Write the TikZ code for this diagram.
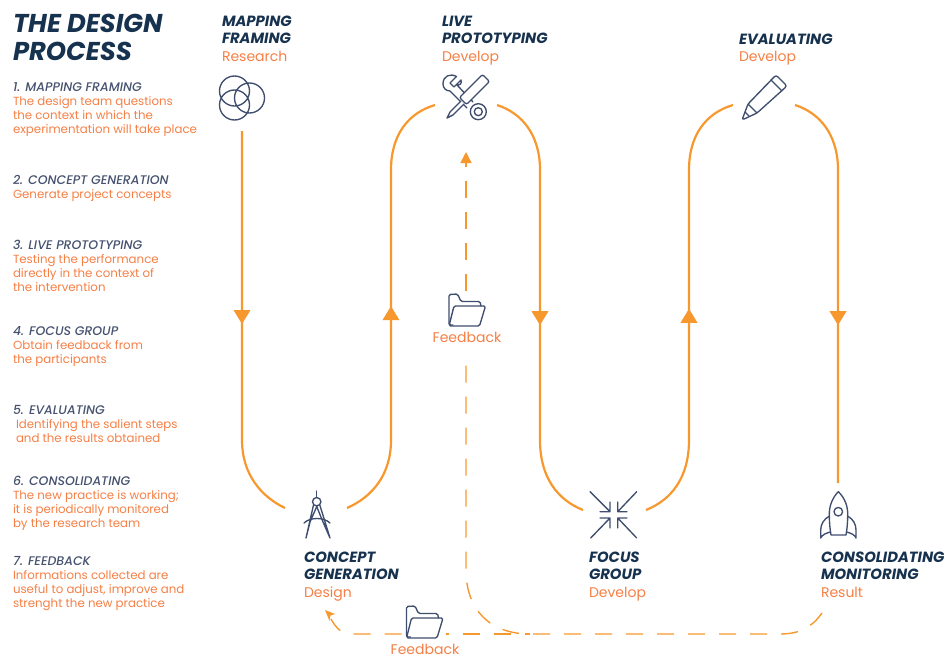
\documentclass[tikz,border=0pt]{standalone}
\usepackage{fontspec}
\setmainfont{Poppins}
\newfontfamily\medfont{Poppins Medium}[ItalicFont={Poppins Medium Italic}]
\usetikzlibrary{arrows.meta,decorations.markings}
\definecolor{navy}{HTML}{17324F}
\definecolor{slate}{HTML}{46526F}
\definecolor{iconc}{HTML}{3F4D6E}
\definecolor{orangeline}{HTML}{F7982E}
\definecolor{orangetext}{HTML}{F57F45}
\tikzset{
  every node/.style={inner sep=0pt,outer sep=0pt},
  flow/.style={draw=orangeline,line width=2.2pt},
  flowtip/.style={postaction={decorate},decoration={markings,mark=at position #1pt with {\arrow[orangeline]{Triangle[length=14pt,width=16.5pt]}}}},
  fbline/.style={draw=orangeline,line width=1.4pt,dash pattern=on 17pt off 14pt},
  fbtip/.style={-{Triangle[length=11pt,width=11pt,color=orangeline]}},
  iconline/.style={draw=iconc,line width=1.35pt,line join=round,line cap=round},
  iconbox/.style={minimum width=#1,minimum height=#1},
  titletext/.style={anchor=north west,align=left,text=navy,font=\fontsize{25.8}{28.5}\selectfont\bfseries\itshape},
  steptext/.style={anchor=north west,align=left,text=navy,font=\fontsize{14.8}{17}\selectfont\bfseries\itshape},
  kindtext/.style={anchor=north west,text=orangetext,font=\fontsize{14}{17}\selectfont},
  listtext/.style={anchor=north west,align=left,text=orangetext,font=\fontsize{11.8}{14}\selectfont},
  pics/folder/.style={code={
    \draw[iconline,rounded corners=1.5pt] (-13,15) -- (-17,15) -- (-17,-15.5) -- (-8.5,-16) -- (-5,-8.5) -- (14,-8.5) -- (15,-4);
    \draw[iconline,rounded corners=1.5pt] (-12,-4) -- (19.5,-4) -- (13.5,16) -- (-17,16) -- cycle;
  }}
}
\newcommand{\headline}[1]{{\color{slate}\fontsize{12.5}{14}\selectfont\medfont\itshape #1}}
\begin{document}
\begin{tikzpicture}[x=1pt,y=-1pt]
\useasboundingbox (0,0) rectangle (944,658);
% ---- anchors of the icons
\node[iconbox=62pt] (map) at (242,100) {};
\node[iconbox=62pt] (live) at (466,105) {};
\node[iconbox=62pt] (evalu) at (764,105) {};
\node[iconbox=62pt] (concept) at (316,508) {};
\node[iconbox=63pt] (focus) at (614.5,510) {};
\node[iconbox=64pt] (consol) at (838,515) {};
% ---- titles
\node[titletext] (title) at (13,14) {THE DESIGN\\PROCESS};
% ---- list
\node[listtext] (l1) at (13,82.5) {\headline{1. MAPPING FRAMING}\\The design team questions\\the context in which the\\experimentation will take place};
\node[listtext] (l2) at (13,175.5) {\headline{2. CONCEPT GENERATION}\\Generate project concepts};
\node[listtext] (l3) at (13,240.5) {\headline{3. LIVE PROTOTYPING}\\Testing the performance\\directly in the context of\\the intervention};
\node[listtext] (l4) at (13,326.5) {\headline{4. FOCUS GROUP}\\Obtain feedback from\\the participants};
\node[listtext] (l5) at (13,405.5) {\headline{5. EVALUATING}\\\hspace*{3pt}Identifying the salient steps\\\hspace*{3pt}and the results obtained};
\node[listtext] (l6) at (13,476.5) {\headline{6. CONSOLIDATING}\\The new practice is working;\\it is periodically monitored\\by the research team};
\node[listtext] (l7) at (13,556.5) {\headline{7. FEEDBACK}\\Informations collected are\\useful to adjust, improve and\\strenght the new practice};
% ---- step labels
\node[steptext] (s1) at (222,16) {MAPPING\\FRAMING};
\node[kindtext] (k1) at (222,51) {Research};
\node[steptext] (s2) at (442,16) {LIVE\\PROTOTYPING};
\node[kindtext] (k2) at (442,51) {Develop};
\node[steptext] (s3) at (739,34) {EVALUATING};
\node[kindtext] (k3) at (739,51) {Develop};
\node[steptext] (s4) at (304,552) {CONCEPT\\GENERATION};
\node[kindtext] (k4) at (304,587) {Design};
\node[steptext] (s5) at (589,552) {FOCUS\\GROUP};
\node[kindtext] (k5) at (589,587) {Develop};
\node[steptext] (s6) at (821,552) {CONSOLIDATING\\MONITORING};
\node[kindtext] (k6) at (821,587) {Result};
% ---- feedback labels
\node[kindtext,anchor=center] (fb1) at (467,337) {Feedback};
\node[kindtext,anchor=center] (fb2) at (425,649) {Feedback};
\node[iconbox=38pt] (fold1) at (466,310) {};
\node[minimum width=44pt,minimum height=10pt] (fold2) at (423.5,634) {};
\pic at (466,310) {folder};
\pic at (423.5,622) {folder};
% ---- main flow
\draw[flow,flowtip=193] (map.south) -- (242,440) .. controls (242,475) and (262,497) .. (concept.west);
\draw[flow,flowtip=220] (concept.east) .. controls (372,497) and (391,475) .. (391,440) -- (391,170) .. controls (391,135) and (408,113) .. (live.west);
\draw[flow,flowtip=239] (live.east) .. controls (522,113) and (540,135) .. (540,170) -- (540,440) .. controls (540,478) and (558,500) .. (focus.west);
\draw[flow,flowtip=219] (focus.east) .. controls (671,500) and (689,478) .. (689,440) -- (689,170) .. controls (689,135) and (706,113) .. (evalu.west);
\draw[flow,flowtip=239] (evalu.east) .. controls (820,113) and (838,135) .. (838,170) -- (consol.north);
% ---- feedback flow
\coordinate (dstart) at (822,613);
\coordinate (djoin) at (530,634);
\coordinate (dtop) at (466,152);
\coordinate (dleft) at (325,610);
\coordinate (dmid) at (466,352);
\draw[fbline] (dstart) .. controls (812,627) and (800,634) .. (780,634) -- (djoin) .. controls (490,634) and (466,610) .. (466,570) -- (dmid);
\draw[fbline,dash phase=12pt] (djoin) -- (fold2.east);
\draw[fbline] (fold2.west) -- (350,634) .. controls (342,634) and (336,628) .. (331,619);
\fill[orangeline] (dleft) -- (335,614) -- (330.5,615.5) -- (329.5,621) -- cycle;
\draw[fbline,fbtip] (fold1.north) -- (dtop);
% ---- venn icon
\draw[iconline] (234.5,91) circle[radius=15] (234.5,105) circle[radius=15] (249.5,98) circle[radius=15];
% ---- tools icon
\draw[iconline] (456.5,76.5) .. controls (450,73) and (443,76) .. (443,84) .. controls (443,88) and (446,91) .. (450,91) -- (467,108);
\draw[iconline] (456.5,76.5) -- (450,83) -- (454,87) -- (461,80) .. controls (462,84) and (460,85) .. (457,85) -- (473,102);
\draw[iconline,fill=white] (478.3,111.7) circle[radius=8];
\draw[iconline] (478.3,111.7) circle[radius=4];
\draw[iconline,fill=white,rounded corners=2pt] (482.5,74.5) -- (489.5,81.5) -- (466.5,104.5) -- (459.5,97.5) -- cycle;
\draw[iconline,fill=white] (461,101) -- (450,112) -- (447,118) -- (453,115) -- (464,104);
% ---- pencil icon
\draw[iconline,rounded corners=2.5pt] (776,75) -- (787,86) -- (757,113) -- (742,120) -- (748,104) -- cycle;
\draw[iconline] (771,80) -- (782,91) (748,104) -- (757,113) (745,112) -- (749,116);
% ---- compass icon
\draw[iconline] (316.7,491) -- (316.7,497.5);
\draw[iconline] (316.7,501.7) circle[radius=4.2];
\draw[iconline] (313.5,505) -- (306,538) -- (310,522) -- (317,506);
\draw[iconline] (319.8,505) -- (330,538) -- (323,522) -- (316.5,506);
\draw[iconline] (304,523) .. controls (310,517) and (324,517) .. (330,523);
% ---- focus icon
\draw[iconline] (590,491.7) -- (610,511.7) (610,502) -- (610,511.7) -- (600,511.7);
\draw[iconline] (636.7,491.7) -- (617.7,511.7) (617.7,502) -- (617.7,511.7) -- (627,511.7);
\draw[iconline] (590.7,538) -- (610,518) (610,528) -- (610,518) -- (600,518);
\draw[iconline] (636.7,538) -- (617.7,518) (617.7,528) -- (617.7,518) -- (627,518);
% ---- rocket icon
\draw[iconline] (838.3,491.7) .. controls (832,498) and (829,507) .. (829.3,515) .. controls (829.3,522) and (830,530) .. (831,535) -- (846,535) .. controls (847,530) and (847.7,522) .. (847.7,515) .. controls (848,507) and (845,498) .. (838.3,491.7) -- cycle;
\draw[iconline] (838.3,511.7) circle[radius=4.3];
\draw[iconline] (829.5,516) .. controls (824,519) and (820.7,524) .. (820.7,530) -- (820.7,538) .. controls (822,535) and (826,533) .. (830.5,532);
\draw[iconline] (847.5,516) .. controls (853,519) and (856,524) .. (856,530) -- (856,538) .. controls (855,535) and (851,533) .. (846.5,532);
\end{tikzpicture}
\end{document}
